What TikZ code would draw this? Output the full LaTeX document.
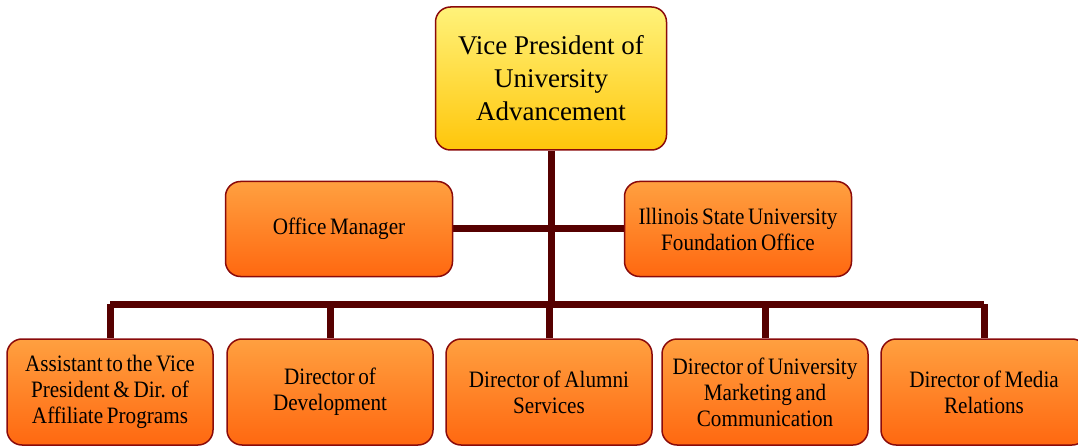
\documentclass[tikz,border=0pt]{standalone}
\usepackage{fontspec}
\usetikzlibrary{backgrounds}
\setmainfont{Liberation Serif}
\newfontfamily\boxfont[FakeStretch=0.9,WordSpace=0.7]{Liberation Serif}
\definecolor{boxborder}{HTML}{8A0A0A}
\definecolor{linkcolor}{HTML}{560000}
\definecolor{orangetop}{HTML}{FFA040}
\definecolor{orangebot}{HTML}{FF6810}
\definecolor{goldtop}{HTML}{FFF27A}
\definecolor{goldbot}{HTML}{FFC60A}
\begin{document}
\begin{tikzpicture}[x=1pt,y=1pt,
  unit node/.style={draw=boxborder,line width=1.5pt,rounded corners=15pt,
    top color=orangetop,bottom color=orangebot,align=center,inner sep=2pt,
    font=\boxfont\fontsize{23.5}{26}\selectfont},
  low node/.style={unit node,minimum width=206pt,minimum height=106pt},
  mid node/.style={unit node,minimum width=227pt,minimum height=95pt},
  head node/.style={unit node,top color=goldtop,bottom color=goldbot,
    minimum width=231pt,minimum height=143pt,font=\fontsize{27}{33}\selectfont},
  link/.style={draw=linkcolor,line width=7pt}]

  \useasboundingbox (0,0) rectangle (1078,-446);

  \coordinate (bus) at (550,-304);

  \node[head node] (vp) at (551,-78.5) {Vice President of\\University\\Advancement};
  \node[mid node] (om) at (339,-229) {Office Manager};
  \node[mid node] (fo) at (738,-229) {Illinois State University\\Foundation Office};

  \node[low node] (avp) at (110,-392) {Assistant to the Vice\\President \& Dir. of\\Affiliate Programs};
  \node[low node] (dev) at (330,-392) {Director of\\Development};
  \node[low node] (alu) at (549,-392) {Director of Alumni\\Services};
  \node[low node] (mkt) at (765,-392) {Director of University\\Marketing and\\Communication};
  \node[low node] (med) at (984,-392) {Director of Media\\Relations};

  % links go under the boxes
  \begin{scope}[on background layer]
  \path[link]
   (vp.south) -- (vp.south |- bus)
   (om.east) -- (fo.west)
   (avp.north |- bus) -- (med.north |- bus)
   (avp.north |- bus) -- (avp.north)
   (dev.north |- bus) -- (dev.north)
   (alu.north |- bus) -- (alu.north)
   (mkt.north |- bus) -- (mkt.north)
   (med.north |- bus) -- (med.north);
  \end{scope}
\end{tikzpicture}
\end{document}
